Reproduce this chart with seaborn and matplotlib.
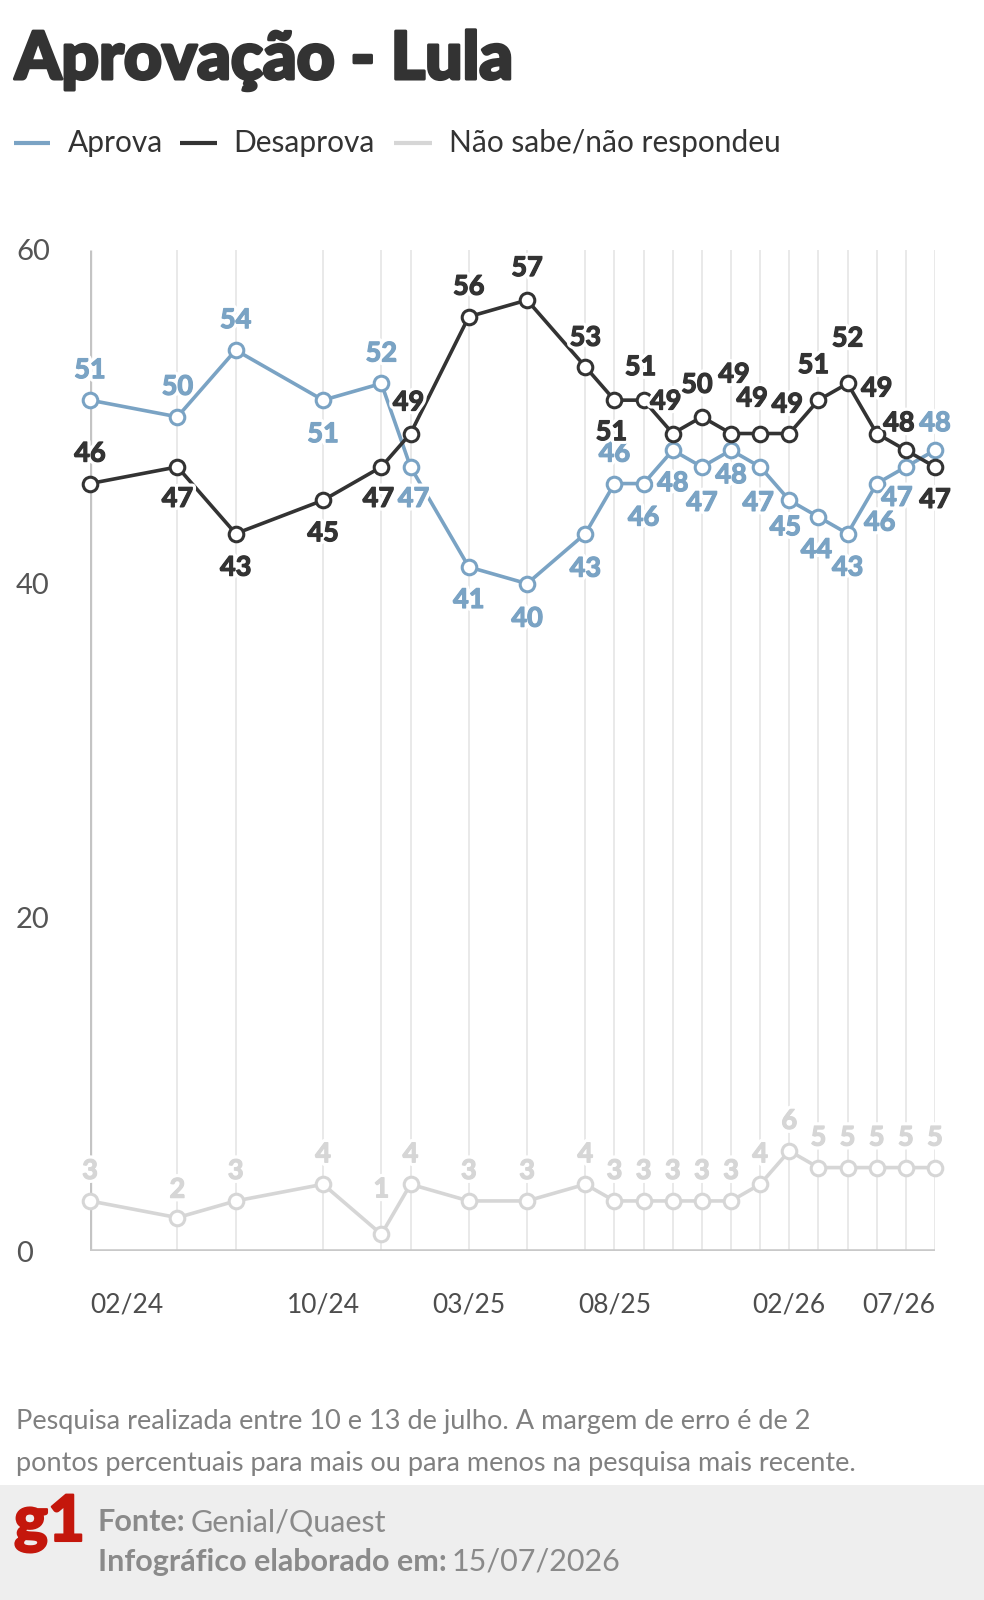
import matplotlib
matplotlib.use("Agg")
import matplotlib.pyplot as plt
import matplotlib.patheffects as pe
from matplotlib.lines import Line2D
from matplotlib.patches import Rectangle
import seaborn as sns
import pandas as pd

# ---------------- data ----------------
survey_months = ["2024-02", "2024-05", "2024-07", "2024-10", "2024-12", "2025-01",
                 "2025-03", "2025-05", "2025-07", "2025-08", "2025-09", "2025-10",
                 "2025-11", "2025-12", "2026-01", "2026-02", "2026-03", "2026-04",
                 "2026-05", "2026-06", "2026-07"]
aprova = [51, 50, 54, 51, 52, 47, 41, 40, 43, 46, 46, 48, 47, 48, 47, 45, 44, 43, 46, 47, 48]
desaprova = [46, 47, 43, 45, 47, 49, 56, 57, 53, 51, 51, 49, 50, 49, 49, 49, 51, 52, 49, 48, 47]
nao_sabe = [3, 2, 3, 4, 1, 4, 3, 3, 4, 3, 3, 3, 3, 3, 4, 6, 5, 5, 5, 5, 5]
x_tick_labels = ["02/24", "10/24", "03/25", "08/25", "02/26", "07/26"]
y_ticks = [0, 20, 40, 60]

title = "Aprovação - Lula"
series_names = ["Aprova", "Desaprova", "Não sabe/não respondeu"]
note_lines = ["Pesquisa realizada entre 10 e 13 de julho. A margem de erro é de 2",
              "pontos percentuais para mais ou para menos na pesquisa mais recente."]
source_label, source_value = "Fonte:", "Genial/Quaest"
made_label, made_value = "Infográfico elaborado em:", "15/07/2026"

# ---------------- style ----------------
C_AP = "#7aa3c4"
C_DE = "#333333"
C_NS = "#d6d6d6"
colors = [C_AP, C_DE, C_NS]

# label offsets in pixels (+ = above point)
ap_dy = [30, 30, 30, -34, 30, -32, -33, -35, -35, 30, -34, -33, -36, -25, -36, -27, -33, -34, -39, -31, 27]
ap_dx = [0, 0, 0, 0, 0, 3, 0, 0, 0, 0, 0, 0, 0, 0, -2, -4, -2, 0, 3, -9, 0]
de_dy = [30, -32, -34, -33, -32, 31, 30, 32, 29, -32, 33, 32, 32, 59, 35, 29, 35, 45, 45, 27, -33]
de_dx = [0, 0, 0, 0, -3, -2, 0, 0, 0, -3, -3, -7, -5, 3, -8, -2, -5, 0, 0, -7, 0]
ns_dy = [30, 28, 30, 30, 45, 30, 30, 30, 30, 30, 30, 30, 30, 30, 30, 30, 30, 30, 30, 30, 30]
ns_dx = [0] * 21
x_tick_ha = ["left", "center", "center", "center", "center", "right"]

sns.set_theme(style="white")
plt.rcParams["font.family"] = ["Lato", "DejaVu Sans"]

W, H = 984, 1600
fig = plt.figure(figsize=(W / 100, H / 100), dpi=100)
fig.patch.set_facecolor("white")

# plot area in pixels
L, R, T, B = 90, 935, 250, 1251
ax = fig.add_axes([L / W, 1 - B / H, (R - L) / W, (B - T) / H])
ax.set_facecolor("none")

periods = pd.PeriodIndex(survey_months, freq="M")
xs = [(p - periods[0]).n for p in periods]
df = pd.DataFrame({"x": xs, "Aprova": aprova, "Desaprova": desaprova, "NS": nao_sabe})

ax.set_xlim(xs[0], xs[-1])
ax.set_ylim(y_ticks[0], y_ticks[-1])

# grid: vertical lines at every survey
ax.vlines(xs[1:], 0, 60, color="#e3e3e3", lw=1.1, zorder=0)
ax.vlines([xs[0]], 0, 60, color="#c4c4c4", lw=2.4, zorder=0.5)
ax.hlines([0], xs[0], xs[-1], color="#c9c9c9", lw=2.6, zorder=0.5)

for col, c, z in [("NS", C_NS, 2), ("Aprova", C_AP, 3), ("Desaprova", C_DE, 4)]:
    sns.lineplot(data=df, x="x", y=col, ax=ax, color=c, lw=2.6, marker="o",
                 markersize=10.5, markerfacecolor="white", markeredgecolor=c,
                 markeredgewidth=2.2, zorder=z, clip_on=False, legend=False)

for i, xv in enumerate(xs):
    for vals, dys, dxs, c, k in [(nao_sabe, ns_dy, ns_dx, C_NS, 0),
                                   (aprova, ap_dy, ap_dx, C_AP, 1),
                                   (desaprova, de_dy, de_dx, C_DE, 2)]:
        effects = [pe.withStroke(linewidth=5.5, foreground="white"),
                   pe.Stroke(linewidth=0.9, foreground=c), pe.Normal()]
        ax.annotate(str(vals[i]), (xv, vals[i]), xytext=(dxs[i], dys[i]),
                    textcoords="offset pixels", ha="center", va="center",
                    fontsize=19.5, fontweight="bold", color=c, path_effects=effects,
                    zorder=10 + i * 0.1 + k * 0.01, annotation_clip=False)

for s in ax.spines.values():
    s.set_visible(False)
ax.set_xlabel("")
ax.set_ylabel("")

tick_pos = [(pd.Period(year=2000 + int(t[3:]), month=int(t[:2]), freq="M") - periods[0]).n
            for t in x_tick_labels]
ax.set_xticks(tick_pos)
ax.set_xticklabels(x_tick_labels, fontsize=19, color="#4d4d4d", fontweight="normal")
for t, ha in zip(ax.get_xticklabels(), x_tick_ha):
    t.set_ha(ha)
ax.tick_params(axis="x", length=0, pad=30)

ax.set_yticks(y_ticks)
ax.set_yticklabels([str(v) for v in y_ticks], fontsize=21, color="#555555", fontweight="normal")
for t in ax.get_yticklabels():
    t.set_ha("left")
ax.tick_params(axis="y", length=0, pad=(L - 16) * 0.72)

# title
fig.text(15 / W, 1 - 79 / H, title, fontsize=47.5, fontweight=900, color="#333333",
         ha="left", va="baseline",
         path_effects=[pe.Stroke(linewidth=2.2, foreground="#333333"), pe.Normal()])

# legend
leg_y = 1 - 143 / H
leg_items = [(14, 50, 68), (180, 217, 233), (394, 432, 449)]
for (x0, x1, tx), name, c in zip(leg_items, series_names, colors):
    fig.add_artist(Line2D([x0 / W, x1 / W], [leg_y, leg_y], color=c, lw=3,
                          solid_capstyle="butt"))
    fig.text(tx / W, leg_y, name, fontsize=21.5, fontweight="normal", color="#333333",
             ha="left", va="center")

# notes
for yy, line in zip([1422, 1463], note_lines):
    fig.text(16 / W, 1 - yy / H, line, fontsize=19.5, fontweight="normal", color="#808080",
             ha="left", va="center")

# footer band
fig.add_artist(Rectangle((0, 0), 1, 1 - 1485 / H, transform=fig.transFigure,
                         facecolor="#eeeeee", edgecolor="none", zorder=0))
fig.text(14 / W, 1 - 1541 / H, "g1", fontsize=46, fontweight=900, color="#c4170c",
         ha="left", va="baseline",
         path_effects=[pe.Stroke(linewidth=1.5, foreground="#c4170c"), pe.Normal()])

fig.canvas.draw()
renderer = fig.canvas.get_renderer()
for yy, lab, val in [(1522, source_label, source_value), (1562, made_label, made_value)]:
    t1 = fig.text(98 / W, 1 - yy / H, lab, fontsize=22, fontweight="bold", color="#8a8a8a",
                  ha="left", va="center")
    bb = t1.get_window_extent(renderer)
    fig.text(bb.x1 / W + 5 / W, 1 - yy / H, val, fontsize=22, fontweight="normal",
             color="#8a8a8a", ha="left", va="center")

fig.savefig("out.png", dpi=100, facecolor="white")
